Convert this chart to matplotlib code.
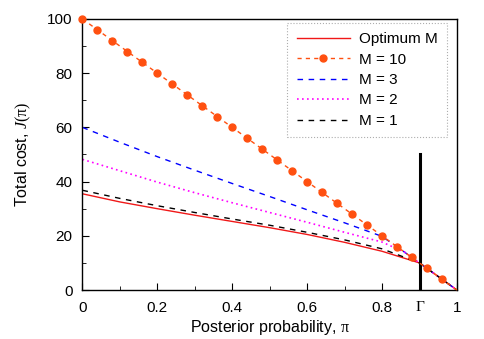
import numpy as np, matplotlib
matplotlib.use("Agg")
import matplotlib.pyplot as plt
from matplotlib.ticker import MultipleLocator, FixedLocator

plt.rcParams['font.family'] = ['Liberation Sans', 'DejaVu Sans']
plt.rcParams['mathtext.fontset'] = 'custom'
plt.rcParams['mathtext.it'] = 'Liberation Serif:italic'
plt.rcParams['mathtext.rm'] = 'Liberation Serif'

# curves
pi_c = [0.0, 0.1, 0.2, 0.3, 0.4, 0.5, 0.6, 0.7, 0.8, 0.9, 1.0]
j_opt = [35.5, 32.5, 30.0, 27.6, 25.3, 23.0, 20.5, 17.6, 14.3, 10.0, 0.0]
j_m1 = [36.8, 33.8, 31.1, 28.6, 26.2, 23.9, 21.3, 18.5, 15.2, 10.0, 0.0]

pi_m = [0.0, 0.1, 0.2, 0.3, 0.4, 0.5, 0.6, 0.7, 0.8, 0.86, 0.9, 1.0]
j_m3 = [60.0, 54.5, 49.2, 44.2, 39.3, 34.5, 29.6, 24.8, 19.8, 14.0, 10.0, 0.0]
j_m2 = [48.2, 44.0, 39.8, 35.9, 32.2, 28.6, 25.0, 21.3, 17.7, 14.0, 10.0, 0.0]

pi_10 = [0.0, 0.04, 0.08, 0.12, 0.16, 0.2, 0.24, 0.28, 0.32, 0.36, 0.4, 0.44, 0.48,
         0.52, 0.56, 0.6, 0.64, 0.68, 0.72, 0.76, 0.8, 0.84, 0.88, 0.92, 0.96, 1.0]
j_m10 = [100, 96, 92, 88, 84, 80, 76, 72, 68, 64, 60, 56, 52,
         48, 44, 40, 36, 32, 28, 24, 20, 16, 12, 8, 4, 0]

gamma = 0.902
gamma_top = 50
xticks = [0, 0.2, 0.4, 0.6, 0.8, gamma, 1]
xlabels = ['0', '0.2', '0.4', '0.6', '0.8', 'Γ', '1']

fig = plt.figure(figsize=(4.85, 3.39), dpi=100)
ax = fig.add_axes([0.17, 0.1445, 0.772, 0.7995])

ax.plot(pi_c, j_opt, color='#f01818', lw=1.0, label='Optimum M')
ax.plot(pi_10, j_m10, color='#ff5010', lw=1.0, ls=(0, (3, 3)), marker='o', ms=5,
        markevery=slice(0, -1), clip_on=False, zorder=3, label='M = 10')
ax.plot(pi_m, j_m3, color='#0000ff', lw=1.0, ls=(0, (4, 4)), label='M = 3')
ax.plot(pi_m, j_m2, color='#ff00ff', lw=1.2, ls=(0, (1, 2)), label='M = 2')
ax.plot(pi_c, j_m1, color='#000000', lw=1.0, ls=(0, (4, 4)), label='M = 1')
ax.plot([gamma, gamma], [0, gamma_top], color='black', lw=2.2)

ax.set_xlim(0, 1)
ax.set_ylim(0, 100)
ax.xaxis.set_major_locator(FixedLocator(xticks))
ax.set_xticklabels(xlabels)
ax.get_xticklabels()[5].set_family('Liberation Serif')
ax.xaxis.set_minor_locator(MultipleLocator(0.1))
ax.yaxis.set_major_locator(MultipleLocator(20))
ax.yaxis.set_minor_locator(MultipleLocator(10))
ax.tick_params(which='both', direction='in', labelsize=11)
ax.tick_params(axis='x', pad=8)
ax.tick_params(axis='y', pad=7)
ax.tick_params(which='major', length=5)
ax.tick_params(which='minor', length=3)
for s in ax.spines.values():
    s.set_linewidth(1.0)

ax.set_xlabel(r'Posterior probability, $\mathrm{π}$', fontsize=11.5, labelpad=2)
ax.set_ylabel(r'Total cost, $\mathit{J}\mathrm{(π)}$', fontsize=11.5, labelpad=10)

leg = ax.legend(loc='upper right', bbox_to_anchor=(0.974, 0.985), borderaxespad=0,
                fontsize=11, handlelength=3.5, handletextpad=0.6,
                fancybox=False, labelspacing=0.42, borderpad=0.6)
leg.get_frame().set_edgecolor('#999999')
leg.get_frame().set_linestyle(':')
leg.get_frame().set_linewidth(0.8)

fig.savefig('out.png', dpi=100)
